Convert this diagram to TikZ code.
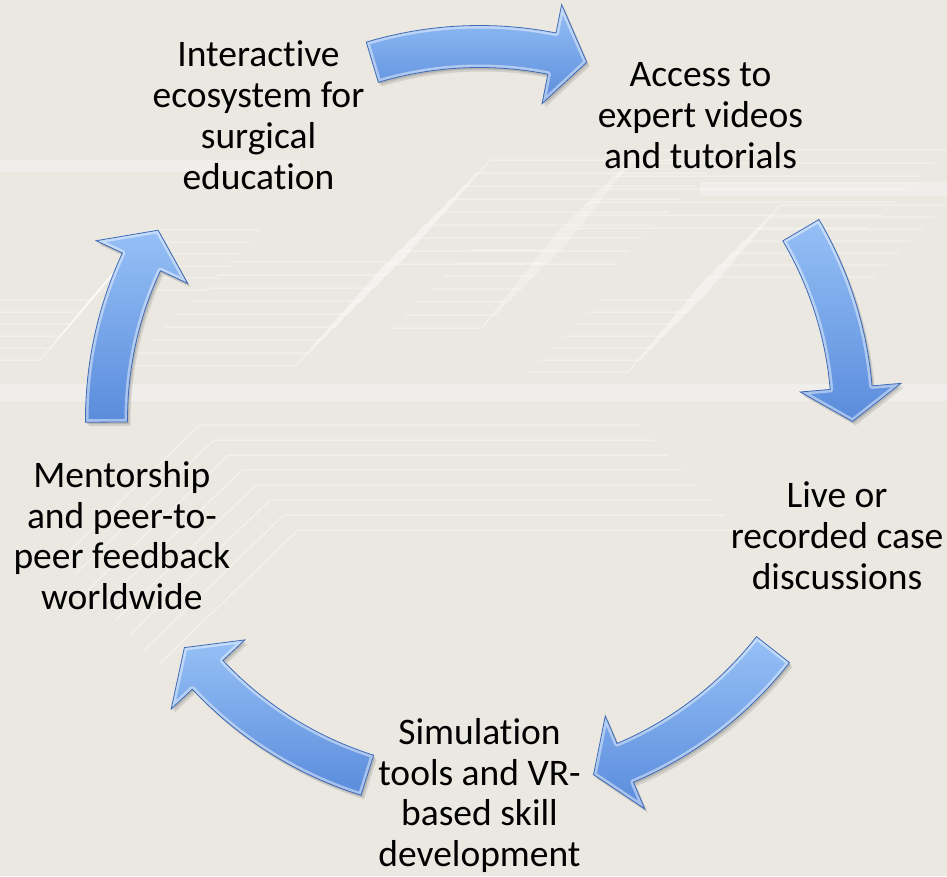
\documentclass[tikz,border=0pt]{standalone}
\usepackage{fontspec}
\setmainfont{Carlito}[Ligatures=NoCommon]
\definecolor{bgc}{RGB}{234,232,225}
\definecolor{arrtop}{RGB}{150,192,246}
\definecolor{arrbot}{RGB}{90,140,220}
\definecolor{arredge}{RGB}{64,106,182}
\tikzset{
  lbl/.style={font=\fontsize{37.5}{40.8}\selectfont, align=center, text=black, inner sep=0pt},
  trace/.style={white, opacity=0.5, line width=1pt},
  band/.style={white, opacity=0.3}
}
\newcommand\cyclearrow[3]{%
  \def\ap{(#1:352) arc[start angle=#1, end angle=#2, radius=352] -- (#2:322) -- (#3:373) -- (#2:423) -- (#2:394) arc[start angle=#2, end angle=#1, radius=394] -- cycle}%
  \fill[black, opacity=0.10, shift={(3,-4)}] \ap;
  \fill[black, opacity=0.12, shift={(1.5,-2)}] \ap;
  \shade[top color=arrtop, bottom color=arrbot] \ap;
  \begin{scope}
    \clip \ap;
    \draw[white, opacity=0.45, line width=6pt, line join=round] \ap;
  \end{scope}
  \draw[arredge, line width=0.8pt, line join=miter] \ap;
}
\begin{document}
\begin{tikzpicture}[x=1pt, y=1pt]
  % background
  \fill[bgc] (-479.5,-456.5) rectangle (467.5,419.5);
  \useasboundingbox (-479.5,-456.5) rectangle (467.5,419.5);
  \begin{scope}[shift={(-479.5,419.5)}, yscale=-1]
    \fill[band] (0,384) rectangle (947,401);
    \fill[band] (700,182) rectangle (947,196);
    \fill[band] (0,160) rectangle (300,172);
    % bundle 1: upper middle
    \foreach \k in {0,...,8}
      \draw[trace, shift={(-13*\k,13*\k)}] (230,262) -- (400,262) -- (490,160) -- (720,160);
    % bundle 1b: right of bundle 1
    \foreach \k in {0,...,6}
      \draw[trace, shift={(-13*\k,13*\k)}] (470,250) -- (560,250) -- (640,150) -- (947,150);
    % bundle 2: right upper
    \foreach \k in {0,...,6}
      \draw[trace, shift={(-12*\k,12*\k)}] (600,300) -- (700,300) -- (780,205) -- (947,205);
    % bundle 3: lower left
    \foreach \k in {0,...,7}
      \draw[trace, shift={(14*\k,15*\k)}] (60,560) -- (200,425) -- (640,425);
    % bundle 4: upper left
    \foreach \k in {0,...,5}
      \draw[trace, shift={(-10*\k,12*\k)}] (0,300) -- (90,300) -- (150,230) -- (260,230);
  \end{scope}
  % arrows
  \cyclearrow{106.7}{78.8}{73.3}
  \cyclearrow{30.5}{4.9}{-0.3}
  \cyclearrow{-38.1}{-67}{-72.2}
  \cyclearrow{-107.5}{-136.8}{-142.3}
  \cyclearrow{180.4}{155}{149.5}
  % labels
  \node[lbl] (n1) at (126:376) {Interactive\\ecosystem for\\surgical\\education};
  \node[lbl] (n2) at (54:376) {Access to\\expert videos\\and tutorials};
  \node[lbl] (n3) at (-18:376) {Live or\\recorded case\\discussions};
  \node[lbl] (n4) at (-90:376) {Simulation\\tools and VR-\\based skill\\development};
  \node[lbl] (n5) at (198:376) {Mentorship\\and peer-to-\\peer feedback\\worldwide};
\end{tikzpicture}
\end{document}
